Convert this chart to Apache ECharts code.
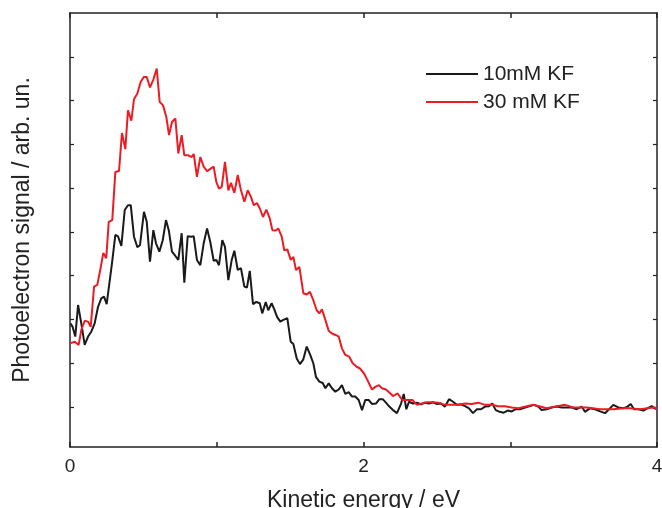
<!DOCTYPE html>
<html>
<head>
<meta charset="utf-8">
<title>Photoelectron spectra</title>
<script src="https://cdn.jsdelivr.net/npm/echarts@6/dist/echarts.min.js"></script>
<style>
  html, body { margin: 0; padding: 0; background: #fff; }
  #main { width: 662px; height: 508px; }
</style>
</head>
<body>
<div id="main"></div>
<script>
// 10mM KF (black)
var blackX = [0.005,0.018,0.036,0.055,0.077,0.100,0.123,0.145,0.168,0.191,0.213,0.232,0.250,0.268,0.286,0.309,0.327,0.350,0.373,0.395,
  0.414,0.436,0.459,0.477,0.504,0.523,0.545,0.568,0.586,0.609,0.632,0.654,0.673,0.695,0.718,0.738,0.761,0.779,0.802,0.825,
  0.843,0.865,0.888,0.911,0.934,0.956,0.979,0.997,1.015,1.038,1.056,1.079,1.102,1.120,1.143,1.165,1.188,1.206,1.225,1.247,
  1.270,1.293,1.310,1.334,1.351,1.374,1.392,1.411,1.433,1.454,1.481,1.504,1.522,1.545,1.567,1.590,1.613,1.635,1.658,1.676,
  1.699,1.722,1.740,1.763,1.785,1.808,1.831,1.853,1.876,1.899,1.922,1.944,1.967,1.990,2.012,2.035,2.058,2.085,2.108,2.131,
  2.153,2.176,2.201,2.228,2.256,2.274,2.292,2.310,2.337,2.365,2.392,2.419,2.446,2.474,2.501,2.528,2.555,2.583,2.610,2.637,
  2.664,2.692,2.719,2.746,2.773,2.801,2.828,2.855,2.878,2.901,2.928,2.955,2.983,3.010,3.037,3.066,3.101,3.135,3.162,3.191,
  3.214,3.248,3.282,3.317,3.351,3.385,3.419,3.453,3.487,3.509,3.543,3.578,3.612,3.646,3.668,3.702,3.736,3.770,3.798,3.821,
  3.843,3.873,3.907,3.934,3.964,3.993];
var blackY = [1.91,1.83,1.61,2.33,1.91,1.42,1.61,1.72,1.91,2.29,2.48,2.52,2.35,2.82,3.28,3.93,3.90,3.68,4.50,4.61,
  4.61,3.89,3.65,3.70,4.46,4.23,3.32,4.04,3.74,3.55,3.81,4.27,4.04,3.55,3.45,3.36,3.97,2.84,3.90,3.89,
  3.90,3.36,3.24,3.74,4.08,3.77,3.34,3.36,3.24,3.81,3.66,2.90,3.36,3.57,3.13,3.17,2.75,2.73,3.11,2.35,
  2.40,2.37,2.14,2.40,2.21,2.37,2.23,2.06,1.95,1.99,2.03,1.49,1.44,1.11,0.98,1.09,1.38,1.21,1.00,0.69,
  0.58,0.55,0.43,0.54,0.43,0.35,0.40,0.50,0.30,0.34,0.24,0.24,0.16,-0.07,0.16,0.16,0.07,0.08,0.18,0.18,
  0.10,0.01,-0.07,-0.14,0.08,0.30,-0.05,0.12,0.08,0.10,0.06,0.10,0.08,0.11,0.07,0.08,0.01,0.18,0.12,0.05,
  0.06,0.02,-0.03,-0.14,-0.05,-0.05,0.01,0.02,0.08,-0.07,-0.11,-0.13,-0.08,-0.10,-0.05,-0.05,-0.01,0.02,0.05,0.01,
  -0.07,-0.05,-0.01,0.01,-0.01,-0.01,-0.01,-0.05,0.01,-0.11,-0.03,-0.05,-0.10,-0.14,-0.07,0.05,-0.01,-0.03,0.01,0.07,
  -0.05,-0.05,-0.08,-0.03,0.02,-0.05];

// 30 mM KF (red)
var redX = [0.005,0.032,0.059,0.077,0.100,0.123,0.141,0.164,0.186,0.206,0.227,0.247,0.264,0.288,0.309,0.334,0.354,0.377,0.395,0.418,
  0.436,0.459,0.482,0.504,0.523,0.545,0.568,0.591,0.611,0.634,0.656,0.675,0.695,0.718,0.738,0.761,0.779,0.806,0.829,0.843,
  0.865,0.888,0.911,0.934,0.961,0.979,0.997,1.015,1.034,1.056,1.079,1.097,1.120,1.143,1.165,1.188,1.211,1.233,1.252,1.274,
  1.293,1.315,1.338,1.361,1.379,1.402,1.419,1.443,1.460,1.481,1.504,1.522,1.540,1.563,1.590,1.613,1.635,1.658,1.681,1.699,
  1.717,1.740,1.763,1.785,1.813,1.831,1.853,1.876,1.903,1.926,1.954,1.976,2.003,2.026,2.058,2.080,2.104,2.126,2.153,2.176,
  2.201,2.233,2.264,2.296,2.333,2.365,2.397,2.431,2.465,2.510,2.555,2.601,2.646,2.692,2.737,2.782,2.828,2.874,2.919,2.964,
  3.010,3.055,3.157,3.248,3.373,3.430,3.521,3.612,3.702,3.794,3.884,3.975,4.000];
var redY = [1.46,1.49,1.42,1.76,1.97,1.95,1.83,2.75,2.79,3.13,3.52,3.40,4.23,4.27,5.37,5.39,6.26,5.89,6.78,6.54,
  7.03,7.16,7.43,7.54,7.54,7.30,7.48,7.73,6.97,6.89,6.63,6.21,6.51,6.59,5.79,6.21,5.75,5.75,5.71,5.78,
  5.26,5.71,5.49,5.39,5.45,5.49,5.14,4.99,5.03,5.60,4.95,5.12,4.89,5.30,4.95,4.69,4.95,4.80,4.61,4.66,
  4.54,4.34,4.51,4.31,4.04,4.03,4.08,3.89,3.58,3.60,3.36,3.43,3.13,3.20,2.60,2.57,2.63,2.44,2.21,2.14,
  2.23,1.99,1.74,1.68,1.64,1.61,1.34,1.19,1.15,1.00,0.92,0.88,0.77,0.62,0.40,0.46,0.50,0.43,0.40,0.33,
  0.25,0.31,0.16,0.16,0.16,0.05,0.08,0.11,0.11,0.10,0.05,0.05,0.05,0.08,0.07,0.10,0.05,0.05,0.02,0.02,
  -0.01,-0.03,0.05,-0.03,0.05,-0.01,-0.01,-0.05,-0.05,-0.02,-0.05,-0.01,-0.02];

var seriesNames = ['10mM KF', '30 mM KF'];
var xLabelValues = [0, 2, 4];
var yTickValues = [0, 1, 2, 3, 4, 5, 6, 7, 8];

function pairs(xs, ys) {
  return xs.map(function (x, i) { return [x, ys[i]]; });
}

var axisColor = '#222';
var font = '"Liberation Sans", Arial, sans-serif';

var chart = echarts.init(document.getElementById('main'));

var option = {
  animation: false,
  backgroundColor: '#fff',
  grid: { left: 70, right: 5, top: 13, bottom: 61, containLabel: false, outerBoundsMode: 'none' },
  legend: {
    data: seriesNames,
    orient: 'vertical',
    left: 421,
    top: 58,
    icon: 'rect',
    itemWidth: 52,
    itemHeight: 2,
    itemGap: 6,
    textStyle: { fontFamily: font, fontSize: 21, color: '#222', lineHeight: 22 }
  },
  xAxis: [{
    type: 'value',
    min: 0, max: 4, interval: 1,
    name: 'Kinetic energy / eV',
    nameLocation: 'middle',
    nameGap: 42,
    nameTextStyle: { fontFamily: font, fontSize: 23, color: '#222' },
    axisLine: { onZero: false, lineStyle: { color: axisColor, width: 1.5 } },
    axisTick: { inside: true, length: 5, lineStyle: { color: axisColor, width: 1.5 } },
    axisLabel: { customValues: xLabelValues, fontFamily: font, fontSize: 19, color: '#222', margin: 10 },
    splitLine: { show: false }
  }, {
    type: 'value',
    position: 'top',
    min: 0, max: 4, interval: 1,
    axisLine: { onZero: false, lineStyle: { color: axisColor, width: 1.5 } },
    axisTick: { inside: true, length: 5, lineStyle: { color: axisColor, width: 1.5 } },
    axisLabel: { show: false },
    splitLine: { show: false }
  }],
  yAxis: [{
    type: 'value',
    min: -0.913, max: 9,
    name: 'Photoelectron signal / arb. un.',
    nameLocation: 'middle',
    nameGap: 36,
    nameTextStyle: { fontFamily: font, fontSize: 23, color: '#222' },
    axisLine: { show: true, onZero: false, lineStyle: { color: axisColor, width: 1.5 } },
    axisTick: { show: true, inside: true, length: 4, customValues: yTickValues, lineStyle: { color: axisColor, width: 1.2 } },
    axisLabel: { show: false },
    splitLine: { show: false }
  }, {
    type: 'value',
    position: 'right',
    min: -0.913, max: 9,
    axisLine: { show: true, onZero: false, lineStyle: { color: axisColor, width: 1.5 } },
    axisTick: { show: true, inside: true, length: 4, customValues: yTickValues, lineStyle: { color: axisColor, width: 1.2 } },
    axisLabel: { show: false },
    splitLine: { show: false }
  }],
  series: [{
    name: seriesNames[0],
    type: 'line',
    symbol: 'none',
    data: pairs(blackX, blackY),
    lineStyle: { color: '#1a1a1a', width: 2 },
    itemStyle: { color: '#1a1a1a' },
    z: 2
  }, {
    name: seriesNames[1],
    type: 'line',
    symbol: 'none',
    data: pairs(redX, redY),
    lineStyle: { color: '#ec1c24', width: 2 },
    itemStyle: { color: '#ec1c24' },
    z: 3
  }]
};

chart.setOption(option);
</script>
</body>
</html>
